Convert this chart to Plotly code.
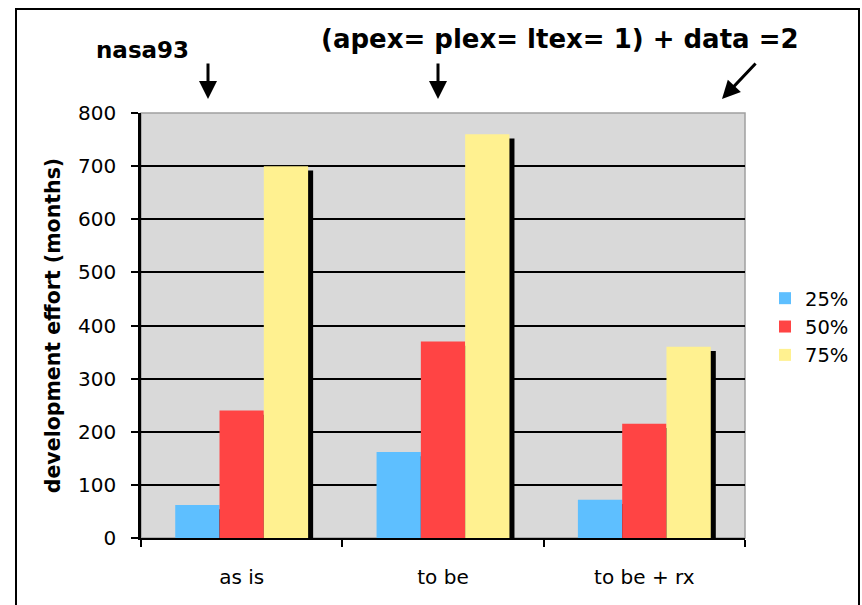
import plotly.graph_objects as go

# Effort estimates (months) per scenario, by percentile
categories = ["as is", "to be", "to be + rx"]
series_names = ["25%", "50%", "75%"]
p25 = [62, 162, 72]
p50 = [240, 370, 215]
p75 = [700, 760, 360]
y_ticks = [0, 100, 200, 300, 400, 500, 600, 700, 800]

colors = ["#5EBFFF", "#FF4444", "#FFF190"]
series = [p25, p50, p75]

bar_w = 0.22
offsets = [-0.33, -0.11, 0.11]
shadow_dx = 0.025   # shadow shift right (category units)
shadow_dy = 8       # shadow top drops by this many months

fig = go.Figure()

# drop shadows behind each bar
for vals, off in zip(series, offsets):
    fig.add_trace(go.Bar(
        x=categories, y=[v - shadow_dy for v in vals],
        width=bar_w, offset=off + shadow_dx,
        marker=dict(color="black", line=dict(width=0)),
        showlegend=False, hoverinfo="skip",
    ))

for name, vals, off, col in zip(series_names, series, offsets, colors):
    fig.add_trace(go.Bar(
        x=categories, y=vals, name=name,
        width=bar_w, offset=off,
        marker=dict(color=col, line=dict(width=0)),
    ))

# plot area geometry in pixels
L, R, T, B = 141, 745, 113, 538
W, H = 862, 605
pw, ph = R - L, B - T

def px(x):
    return (x - L) / pw

def py(y):
    return (B - y) / ph

shapes = [
    # grey frame on top/right of plot area
    dict(type="rect", xref="paper", yref="paper", x0=0, x1=1, y0=0, y1=1,
         line=dict(color="#A0A0A0", width=1.5), fillcolor="rgba(0,0,0,0)",
         layer="between"),
    # outer border
    dict(type="rect", xref="paper", yref="paper",
         x0=px(16), x1=px(859), y0=py(615), y1=py(9),
         line=dict(color="black", width=2), fillcolor="rgba(0,0,0,0)",
         layer="above"),
]

annotations = [
    dict(text="<b>nasa93</b>", xref="paper", yref="paper", x=px(142), y=py(50),
         xanchor="center", yanchor="middle", showarrow=False,
         font=dict(family="DejaVu Sans", size=23, color="black")),
    dict(text="<b>(apex= plex= ltex= 1) + data =2</b>", xref="paper", yref="paper",
         x=px(560), y=py(39), xanchor="center", yanchor="middle", showarrow=False,
         font=dict(family="DejaVu Sans", size=26, color="black")),
]
for (x0, y0, x1, y1) in [(208, 62, 208, 99), (438, 62, 438, 99), (757, 62, 722, 99)]:
    annotations.append(dict(
        text="", xref="paper", yref="paper", x=px(x1), y=py(y1),
        ax=x0 - x1, ay=y0 - y1, axref="pixel", ayref="pixel",
        showarrow=True, arrowhead=2, arrowsize=1.2, arrowwidth=3,
        arrowcolor="black",
    ))

fig.update_layout(
    width=W, height=H,
    margin=dict(l=L, r=W - R, t=T, b=H - B, pad=0, autoexpand=False),
    paper_bgcolor="white", plot_bgcolor="#D9D9D9",
    barmode="overlay",
    font=dict(family="DejaVu Sans", size=20, color="black"),
    showlegend=True,
    legend=dict(x=px(765), y=py(327), xanchor="left", yanchor="middle",
                font=dict(size=19.5), bgcolor="rgba(0,0,0,0)",
                traceorder="normal", itemwidth=30),
    shapes=shapes, annotations=annotations,
    xaxis=dict(type="category", tickson="boundaries", ticks="outside",
               ticklen=7, tickwidth=2, tickcolor="black",
               showline=True, linecolor="black", linewidth=1.5,
               showgrid=False, tickfont=dict(size=20), ticklabelstandoff=20,
               range=[-0.5, 2.5]),
    yaxis=dict(range=[0, 800], tickvals=y_ticks, ticks="outside", ticklen=7,
               tickwidth=2, tickcolor="black", showline=True, linecolor="black",
               linewidth=2.5, showgrid=True, gridcolor="black", gridwidth=2,
               zeroline=False, tickfont=dict(size=20), ticklabelstandoff=11,
               title=dict(text="<b>development effort (months)</b>",
                          font=dict(size=20.5), standoff=12)),
)

fig.write_html("out.html")
